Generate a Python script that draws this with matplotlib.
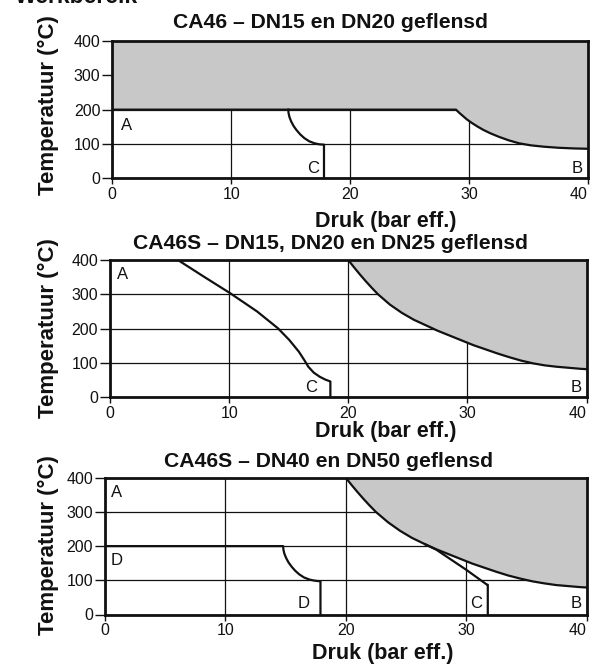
import matplotlib
matplotlib.use("Agg")
import matplotlib.pyplot as plt

plt.rcParams['font.family'] = ['Liberation Sans', 'DejaVu Sans']

# ---------------- data (pressure in bar eff., temperature in °C) ----------------
x_ticks = [0, 10, 20, 30, 40]
y_ticks = [0, 100, 200, 300, 400]

titles = ["CA46 – DN15 en DN20 geflensd",
          "CA46S – DN15, DN20 en DN25 geflensd",
          "CA46S – DN40 en DN50 geflensd"]
xlabel = "Druk (bar eff.)"
ylabel = "Temperatuur (°C)"
header = "Werkbereik"

# Panel 1: grey (forbidden) zone boundary
p1_grey = [0, 28.9, 29.2, 29.5, 29.8, 30.2, 30.7, 31.2, 31.8, 32.5, 33.3, 34.2,
           35.2, 36.3, 37.5, 38.8, 40.0]
t1_grey = [200, 200, 190, 181, 172, 162, 151, 141, 131, 121, 111, 102,
           96, 92, 89, 87, 86]
# Panel 1: line C
p1_c = [14.8, 14.82, 14.9, 15.05, 15.25, 15.5, 15.8, 16.15, 16.55, 17.0, 17.4, 17.8, 17.8]
t1_c = [200, 190, 178, 165, 152, 140, 128, 117, 108, 102, 99, 98, 0]

# Panel 2: grey zone boundary
p2_grey = [20.0, 20.5, 21.0, 21.5, 22.0, 22.5, 23.5, 24.5, 25.5, 26.5, 27.5, 28.5,
           29.5, 30.5, 31.5, 32.5, 33.5, 34.5, 35.5, 36.5, 37.5, 38.5, 39.5, 40.0]
t2_grey = [400, 378, 357, 337, 318, 300, 270, 246, 226, 210, 194, 180,
           166, 152, 140, 128, 117, 107, 99, 93, 89, 86, 83, 82]
# Panel 2: line A-C
p2_ac = [5.7, 7.9, 10.1, 12.35, 14.1, 15.05, 15.85, 16.3, 16.65, 17.1, 17.6, 18.05, 18.5, 18.5]
t2_ac = [400, 351, 303, 250, 201, 167, 133, 109, 89, 72, 60, 52, 46, 0]

# Panel 3: grey zone boundary
p3_grey = [20.0, 20.5, 21.0, 21.5, 22.0, 22.5, 23.5, 24.5, 25.5, 26.5, 27.5, 28.5,
           29.5, 30.5, 31.5, 32.5, 33.5, 34.5, 35.5, 36.5, 37.5, 38.5, 39.5, 40.0]
t3_grey = [400, 378, 357, 337, 318, 300, 270, 245, 224, 207, 191, 177,
           163, 149, 137, 125, 114, 105, 97, 91, 86, 83, 80, 79]
# Panel 3: line D
p3_d = [0, 14.8, 14.82, 14.9, 15.05, 15.25, 15.5, 15.8, 16.15, 16.55, 17.0, 17.4, 17.9, 17.9]
t3_d = [200, 200, 190, 178, 165, 152, 140, 128, 117, 108, 102, 99, 97, 0]
# Panel 3: line C
p3_c = [26.6, 27.5, 30.0, 31.7, 31.8, 31.8]
t3_c = [205, 190, 131, 88, 87, 0]

# region labels: (text, x, y, ha)
labels1 = [("A", 0.7, 154, "left"), ("C", 17.35, 30, "right"), ("B", 39.6, 29, "right")]
labels2 = [("A", 0.6, 359, "left"), ("C", 17.35, 29, "right"), ("B", 39.6, 29, "right")]
labels3 = [("A", 0.5, 357, "left"), ("D", 0.5, 158, "left"), ("D", 17.0, 32, "right"),
           ("C", 31.3, 32, "right"), ("B", 39.6, 32, "right")]

# ---------------- layout ----------------
W, H = 592, 664
fig = plt.figure(figsize=(W / 100, H / 100), dpi=100)

# axes boxes in pixels: left, right, top, bottom
boxes = [(112.3, 588.0, 41.0, 178.3),
         (110.0, 586.5, 260.0, 397.3),
         (105.0, 586.5, 477.7, 614.5)]
title_pos = [(330, 28), (330, 249), (329, 467)]
xlabel_pos = [(386, 227), (386, 437), (383, 659)]
ylabel_pos = [(48, 105), (48, 328.5), (48, 545)]

grey = "#c8c8c8"
ink = "#111111"

panels = [
    (p1_grey, t1_grey, [(p1_c, t1_c)], labels1),
    (p2_grey, t2_grey, [(p2_ac, t2_ac)], labels2),
    (p3_grey, t3_grey, [(p3_d, t3_d), (p3_c, t3_c)], labels3),
]

for i, (pg, tg, lines, labs) in enumerate(panels):
    l, r, t, b = boxes[i]
    ax = fig.add_axes([l / W, 1 - b / H, (r - l) / W, (b - t) / H])
    ax.set_xlim(0, 40)
    ax.set_ylim(0, 400)
    ax.set_xticks(x_ticks, labels=[str(v) for v in x_ticks])
    ax.set_yticks(y_ticks, labels=[str(v) for v in y_ticks])
    ax.set_axisbelow(True)
    ax.grid(True, color=ink, lw=0.9)
    ax.fill_between(pg, tg, 400, color=grey, lw=0, zorder=1)
    ax.plot(pg, tg, color=ink, lw=1.6, zorder=3, solid_joinstyle="round")
    for px, ty in lines:
        ax.plot(px, ty, color=ink, lw=1.6, zorder=3, solid_joinstyle="round")
    for txt, x, y, ha in labs:
        ax.text(x, y, txt, ha=ha, va="center", fontsize=12, color=ink, zorder=4)
    for s in ax.spines.values():
        s.set_linewidth(2.0)
        s.set_color(ink)
        s.set_zorder(5)
    ax.tick_params(axis="y", direction="out", length=7, width=1, pad=1.5,
                   labelsize=11.5, colors=ink)
    ax.tick_params(axis="x", direction="out", length=4, width=1, pad=2,
                   labelsize=11.5, colors=ink)
    ax.get_xticklabels()[-1].set_horizontalalignment("right")

    tx, ty = title_pos[i]
    fig.text(tx / W, 1 - ty / H, titles[i], ha="center", va="baseline",
             fontsize=15.2, weight="bold", color=ink)
    xx, xy = xlabel_pos[i]
    fig.text(xx / W, 1 - xy / H, xlabel, ha="center", va="baseline",
             fontsize=15.5, weight="bold", color=ink)
    yx, yy = ylabel_pos[i]
    fig.text(yx / W, 1 - yy / H, ylabel, ha="center", va="center", rotation=90,
             fontsize=16, weight="bold", color=ink)

fig.text(15 / W, 1 - 3 / H, header, ha="left", va="baseline",
         fontsize=16.5, weight="bold", color=ink)

fig.savefig("out.png", dpi=100)
